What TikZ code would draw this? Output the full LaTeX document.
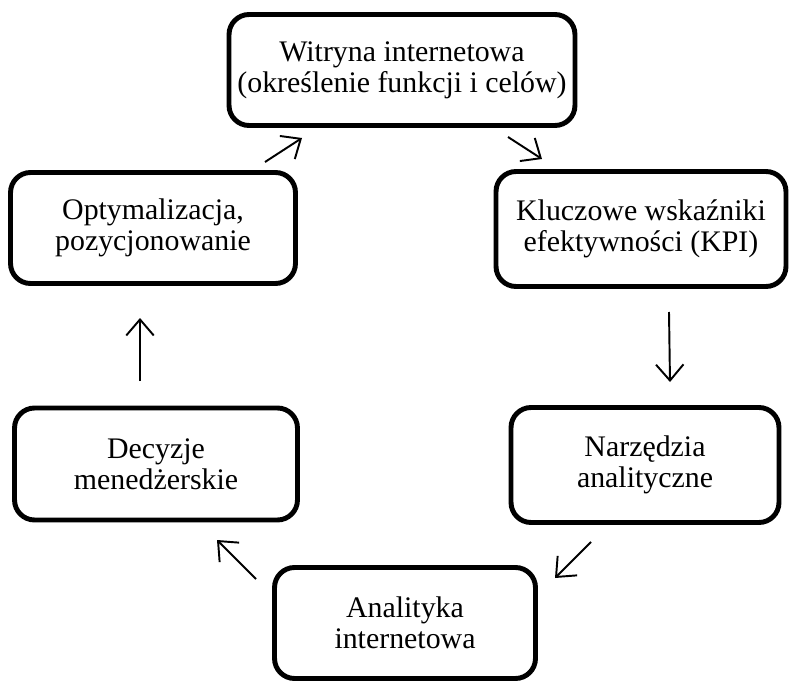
\documentclass[tikz,border=0pt]{standalone}
\usepackage{fontspec}
\setmainfont{Liberation Serif}
\usetikzlibrary{arrows.meta}

\begin{document}
\begin{tikzpicture}[
  x=0.02cm, y=-0.02cm,
  every node/.style={font=\fontsize{17}{17.5}\selectfont},
  box/.style={draw, line width=2.8pt, rounded corners=0.4cm, align=center, inner sep=0pt},
  arr/.style={-{Straight Barb[length=3.2mm, width=5.5mm]}, line width=1.1pt}
]
\useasboundingbox (0,0) rectangle (791,682);
\node[box, minimum width=6.92cm, minimum height=2.22cm] (site) at (402,70) {Witryna internetowa\\(określenie funkcji i celów)};
\node[box, minimum width=5.70cm, minimum height=2.22cm] (opt) at (153,228) {Optymalizacja,\\pozycjonowanie};
\node[box, minimum width=5.80cm, minimum height=2.30cm] (kpi) at (641,229) {Kluczowe wskaźniki\\efektywności (KPI)};
\node[box, minimum width=5.66cm, minimum height=2.24cm] (dec) at (156,464) {Decyzje\\menedżerskie};
\node[box, minimum width=5.36cm, minimum height=2.30cm] (tools) at (645,465) {Narzędzia\\analityczne};
\node[box, minimum width=5.22cm, minimum height=2.22cm] (web) at (405,623) {Analityka\\internetowa};
% free ends of the arrows
\coordinate (a1) at (265,162); \coordinate (b1) at (302,138);
\coordinate (a2) at (508,137); \coordinate (b2) at (542,159);
\coordinate (a3) at (669,312); \coordinate (b3) at (670,382);
\coordinate (a4) at (591,542); \coordinate (b4) at (555,578);
\coordinate (a5) at (256,579); \coordinate (b5) at (217,540);
\coordinate (a6) at (140,381); \coordinate (b6) at (140,318);
\draw[arr] (a1) -- (b1);
\draw[arr] (a2) -- (b2);
\draw[arr] (a3) -- (b3);
\draw[arr] (a4) -- (b4);
\draw[arr] (a5) -- (b5);
\draw[arr] (a6) -- (b6);
\end{tikzpicture}
\end{document}
